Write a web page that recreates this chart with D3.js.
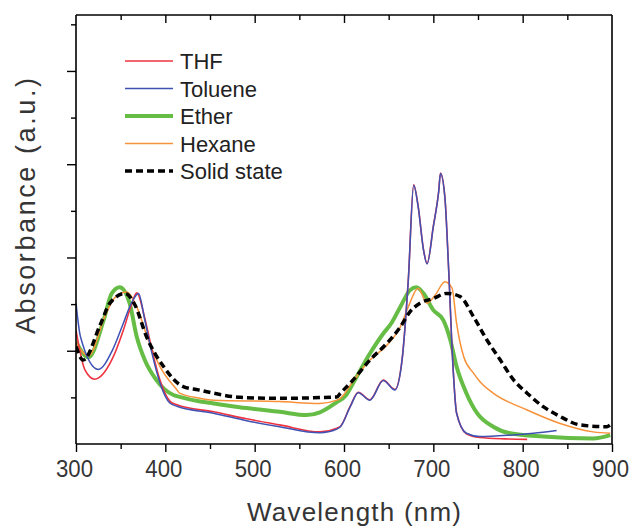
<!DOCTYPE html>
<html>
<head>
<meta charset="utf-8">
<script src="https://cdn.jsdelivr.net/npm/d3@7"></script>
<style>
  html, body { margin: 0; padding: 0; background: #fff; }
  svg { display: block; }
</style>
</head>
<body>
<svg id="chart" width="629" height="528"></svg>
<script>
// ---- data (wavelength in nm, absorbance in a.u.) ----
const seriesNames = ["THF", "Toluene", "Ether", "Hexane", "Solid state"];
const xTickValues = [300, 400, 500, 600, 700, 800, 900];

const thfX = [300, 310, 321, 341, 353, 362, 368, 377, 385, 394, 405, 413, 454, 491, 528, 573, 592, 596, 607, 616, 629, 644, 657, 665, 672, 678, 683, 689, 693, 700, 706, 708, 713, 717, 722, 726, 737, 752, 780, 805];
const thfY = [0.244, 0.159, 0.139, 0.184, 0.244, 0.298, 0.324, 0.270, 0.202, 0.137, 0.092, 0.084, 0.069, 0.054, 0.041, 0.026, 0.034, 0.038, 0.081, 0.111, 0.095, 0.137, 0.117, 0.181, 0.353, 0.556, 0.510, 0.417, 0.387, 0.467, 0.542, 0.581, 0.528, 0.381, 0.167, 0.067, 0.022, 0.014, 0.011, 0.010];

const tolX = [300, 305, 325, 341, 353, 362, 370, 377, 385, 394, 405, 413, 454, 491, 528, 573, 592, 596, 607, 616, 629, 644, 657, 665, 672, 678, 683, 689, 693, 700, 706, 708, 713, 717, 722, 726, 737, 752, 786, 812, 838];
const tolY = [0.302, 0.230, 0.160, 0.202, 0.259, 0.302, 0.323, 0.266, 0.195, 0.131, 0.088, 0.081, 0.066, 0.050, 0.037, 0.024, 0.032, 0.037, 0.080, 0.110, 0.094, 0.136, 0.116, 0.180, 0.352, 0.555, 0.509, 0.416, 0.386, 0.466, 0.541, 0.580, 0.527, 0.380, 0.166, 0.066, 0.023, 0.016, 0.019, 0.023, 0.029];

const etherX = [300, 314, 331, 340, 349, 360, 368, 377, 390, 409, 416, 439, 454, 491, 528, 558, 573, 592, 602, 610, 629, 644, 653, 663, 674, 681, 689, 700, 711, 719, 726, 737, 749, 767, 786, 823, 879, 898];
const etherY = [0.219, 0.186, 0.266, 0.323, 0.336, 0.302, 0.230, 0.180, 0.137, 0.105, 0.101, 0.091, 0.087, 0.077, 0.069, 0.062, 0.068, 0.090, 0.104, 0.130, 0.194, 0.237, 0.259, 0.294, 0.330, 0.336, 0.323, 0.287, 0.266, 0.223, 0.166, 0.109, 0.066, 0.037, 0.023, 0.016, 0.012, 0.019];

const hexX = [300, 314, 333, 344, 357, 368, 381, 394, 413, 416, 439, 454, 528, 573, 592, 596, 610, 629, 648, 663, 672, 683, 693, 702, 713, 721, 726, 734, 745, 752, 767, 805, 842, 879, 898];
const hexY = [0.217, 0.189, 0.277, 0.315, 0.326, 0.294, 0.223, 0.166, 0.116, 0.109, 0.098, 0.094, 0.091, 0.087, 0.094, 0.098, 0.134, 0.180, 0.212, 0.251, 0.294, 0.334, 0.302, 0.319, 0.348, 0.334, 0.259, 0.187, 0.152, 0.134, 0.109, 0.073, 0.044, 0.026, 0.023];

const solidX = [300, 308, 327, 338, 355, 366, 379, 398, 420, 437, 454, 484, 528, 592, 596, 610, 629, 648, 663, 674, 685, 700, 715, 730, 745, 760, 775, 790, 805, 823, 842, 864, 894, 898];
const solidY = [0.209, 0.180, 0.255, 0.302, 0.323, 0.298, 0.230, 0.166, 0.123, 0.116, 0.109, 0.100, 0.098, 0.101, 0.109, 0.137, 0.180, 0.216, 0.251, 0.284, 0.302, 0.312, 0.323, 0.316, 0.273, 0.223, 0.180, 0.137, 0.109, 0.080, 0.059, 0.041, 0.037, 0.041];

// ---- layout ----
const svg = d3.select("#chart");
const L = 76, R = 612, T = 15, B = 444;
const x = d3.scaleLinear().domain([300, 900]).range([L, R]);
const y = d3.scaleLinear().domain([0, 0.92]).range([B, T]);

const font = "Arial, 'Liberation Sans', Helvetica, sans-serif";
const textCol = "#353535";

svg.append("defs").append("clipPath").attr("id", "clip")
  .append("rect").attr("x", L).attr("y", T).attr("width", R - L).attr("height", B - T);

// ---- series ----
const series = [
  { name: "Ether", xs: etherX, ys: etherY, color: "#66bd45", width: 4, dash: null },
  { name: "Hexane", xs: hexX, ys: hexY, color: "#f7923a", width: 1.5, dash: null },
  { name: "THF", xs: thfX, ys: thfY, color: "#ee3340", width: 1.6, dash: null },
  { name: "Toluene", xs: tolX, ys: tolY, color: "#3f52b3", width: 1.5, dash: null },
  { name: "Solid state", xs: solidX, ys: solidY, color: "#000000", width: 3.5, dash: "7,4" }
];

const lineGen = d3.line().x(d => x(d[0])).y(d => y(d[1])).curve(d3.curveMonotoneX);

const gLines = svg.append("g").attr("clip-path", "url(#clip)");
series.forEach(s => {
  const pts = s.xs.map((v, i) => [v, s.ys[i]]);
  gLines.append("path")
    .attr("d", lineGen(pts))
    .attr("fill", "none")
    .attr("stroke", s.color)
    .attr("stroke-width", s.width)
    .attr("stroke-linejoin", "round")
    .attr("stroke-dasharray", s.dash);
});

// ---- axes ----
const gx = svg.append("g").attr("transform", `translate(0,${B})`)
  .call(d3.axisBottom(x).tickValues(xTickValues).tickSize(8).tickPadding(5).tickFormat(d3.format("d")));
const gxMinor = svg.append("g").attr("transform", `translate(0,${B})`)
  .call(d3.axisBottom(x).tickValues(d3.range(350, 900, 100)).tickSize(5).tickFormat(""));
const gTop = svg.append("g").attr("transform", `translate(0,${T})`)
  .call(d3.axisBottom(x).tickValues(d3.range(400, 900, 100)).tickSize(8).tickFormat(""));
const gTopMinor = svg.append("g").attr("transform", `translate(0,${T})`)
  .call(d3.axisBottom(x).tickValues(d3.range(350, 900, 100)).tickSize(5).tickFormat(""));
const gy = svg.append("g").attr("transform", `translate(${L},0)`)
  .call(d3.axisLeft(y).tickValues([0.2, 0.4, 0.6, 0.8]).tickSize(9).tickFormat(""));
const gyMinor = svg.append("g").attr("transform", `translate(${L},0)`)
  .call(d3.axisLeft(y).tickValues([0.1, 0.3, 0.5, 0.7, 0.9]).tickSize(5).tickFormat(""));
const gRight = svg.append("g").attr("transform", `translate(${R},0)`)
  .call(d3.axisRight(y).tickValues([]).tickSize(0));

[gx, gxMinor, gTop, gTopMinor, gy, gyMinor, gRight].forEach(g => {
  g.select(".domain").attr("stroke", "#000").attr("stroke-width", 1.6);
  g.selectAll(".tick line").attr("stroke", "#000").attr("stroke-width", 1.4);
});
gTop.select(".domain").attr("d", `M${L},0H${R}`);
gTopMinor.select(".domain").remove();
gxMinor.select(".domain").remove();
gyMinor.select(".domain").remove();
gx.select(".domain").attr("d", `M${L},0H${R}`);
gy.select(".domain").attr("d", `M0,${B}V${T}`);
gRight.select(".domain").attr("d", `M0,${B}V${T}`);

gx.selectAll(".tick text")
  .attr("font-family", font).attr("font-size", 23).attr("fill", textCol)
  .attr("dy", null).attr("y", 33).attr("x", -2)
  .attr("textLength", 37).attr("lengthAdjust", "spacingAndGlyphs");

// ---- axis titles ----
svg.append("text")
  .attr("transform", "translate(35,206) rotate(-90)")
  .attr("text-anchor", "middle")
  .attr("font-family", font).attr("font-size", 27).attr("fill", textCol)
  .attr("textLength", 256).attr("lengthAdjust", "spacing")
  .text("Absorbance (a.u.)");

svg.append("text")
  .attr("x", 354).attr("y", 521)
  .attr("text-anchor", "middle")
  .attr("font-family", font).attr("font-size", 26).attr("fill", textCol)
  .attr("textLength", 214).attr("lengthAdjust", "spacing")
  .text("Wavelength (nm)");

// ---- legend ----
const legendItems = [
  { name: "THF", color: "#ee3340", width: 1.6, dash: null },
  { name: "Toluene", color: "#3f52b3", width: 1.5, dash: null },
  { name: "Ether", color: "#66bd45", width: 4, dash: null },
  { name: "Hexane", color: "#f7923a", width: 1.5, dash: null },
  { name: "Solid state", color: "#000000", width: 3.5, dash: "7,4" }
];
const legendRowY = d3.scalePoint().domain(seriesNames).range([61, 171]);
const gLeg = svg.append("g");
legendItems.forEach(it => {
  const cy = legendRowY(it.name);
  gLeg.append("line")
    .attr("x1", 125).attr("x2", 173).attr("y1", cy).attr("y2", cy)
    .attr("stroke", it.color).attr("stroke-width", it.width)
    .attr("stroke-dasharray", it.dash);
  gLeg.append("text")
    .attr("x", 180).attr("y", cy + 8)
    .attr("font-family", font).attr("font-size", 22).attr("fill", "#222")
    .text(it.name);
});
</script>
</body>
</html>
